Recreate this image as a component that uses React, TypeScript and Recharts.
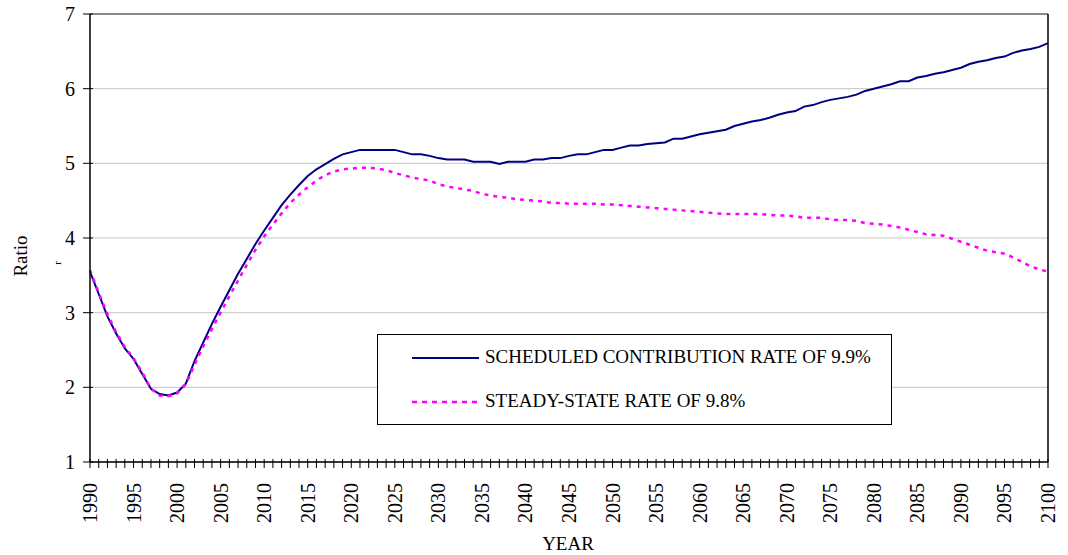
import { LineChart, Line, XAxis, YAxis, CartesianGrid, Legend, ReferenceLine } from "recharts";

const FONT = '"Liberation Serif", "Times New Roman", serif';

// ratio under the scheduled contribution rate of 9.9%, one value per year 1990..2100
const scheduled = [
  3.55, 3.25, 2.95, 2.72, 2.52, 2.38, 2.18, 1.98, 1.91, 1.89,
  1.93, 2.05, 2.35, 2.6, 2.85, 3.08, 3.3, 3.52, 3.72, 3.92,
  4.1, 4.27, 4.44, 4.58, 4.71, 4.83, 4.92, 4.99, 5.06, 5.12,
  5.15, 5.18, 5.18, 5.18, 5.18, 5.18, 5.15, 5.12, 5.12, 5.1,
  5.07, 5.05, 5.05, 5.05, 5.02, 5.02, 5.02, 4.99, 5.02, 5.02,
  5.02, 5.05, 5.05, 5.07, 5.07, 5.1, 5.12, 5.12, 5.15, 5.18,
  5.18, 5.21, 5.24, 5.24, 5.26, 5.27, 5.28, 5.33, 5.33, 5.36,
  5.39, 5.41, 5.43, 5.45, 5.5, 5.53, 5.56, 5.58, 5.61, 5.65,
  5.68, 5.7, 5.76, 5.78, 5.82, 5.85, 5.87, 5.89, 5.92, 5.97,
  6.0, 6.03, 6.06, 6.1, 6.1, 6.15, 6.17, 6.2, 6.22, 6.25,
  6.28, 6.33, 6.36, 6.38, 6.41, 6.43, 6.48, 6.51, 6.53, 6.56,
  6.61,
];

// ratio under the steady-state rate of 9.8%
const steadyState = [
  3.57, 3.27, 2.98, 2.74, 2.54, 2.39, 2.2, 1.98, 1.89, 1.88,
  1.92, 2.04, 2.3, 2.55, 2.78, 3.0, 3.22, 3.43, 3.64, 3.84,
  4.02, 4.18, 4.33, 4.47, 4.58, 4.68, 4.77, 4.84, 4.89, 4.92,
  4.93, 4.94, 4.94, 4.93, 4.91, 4.87, 4.84, 4.81, 4.79, 4.77,
  4.72, 4.69, 4.67, 4.65, 4.63, 4.59, 4.57, 4.55, 4.54, 4.52,
  4.51, 4.5, 4.49, 4.47, 4.47, 4.46, 4.46, 4.46, 4.46, 4.45,
  4.45, 4.44, 4.43, 4.42, 4.41, 4.4, 4.39, 4.38, 4.37, 4.36,
  4.35, 4.34, 4.33, 4.32, 4.32, 4.32, 4.32, 4.32, 4.31, 4.3,
  4.3, 4.29, 4.27, 4.27, 4.27, 4.25, 4.24, 4.24, 4.23, 4.2,
  4.19, 4.18, 4.16, 4.14, 4.11, 4.08, 4.05, 4.04, 4.03, 3.99,
  3.95, 3.91, 3.87, 3.83, 3.81, 3.79, 3.74, 3.68, 3.62, 3.58,
  3.55,
];

const FIRST_YEAR = 1990;
const years = scheduled.map((_, i) => FIRST_YEAR + i);
const ratioTicks = [1, 2, 3, 4, 5, 6, 7];

const seriesNames = ["SCHEDULED CONTRIBUTION RATE OF 9.9%", "STEADY-STATE RATE OF 9.8%"];

const data = years.map((year, i) => ({
  year,
  scheduled: scheduled[i],
  steady: steadyState[i],
}));

function YearTick(props: any) {
  const { x, y, payload } = props;
  const yr = payload.value;
  const ty = y + 19;
  return (
    <g>
      <line x1={x} x2={x} y1={y - 5} y2={y + 4} stroke="#000" />
      {yr % 5 === 0 && (
        <text
          x={x}
          y={ty}
          dy="0.35em"
          transform={`rotate(-90 ${x} ${ty})`}
          textAnchor="end"
          fontFamily={FONT}
          fontSize={20}
          fill="#000"
        >
          {yr}
        </text>
      )}
    </g>
  );
}

function LeftTick(props: any) {
  const { x, y, payload } = props;
  return (
    <g>
      <line x1={x - 5} x2={x + 5} y1={y} y2={y} stroke="#000" />
      <text x={x - 13} y={y} dy="0.35em" textAnchor="end" fontFamily={FONT} fontSize={20} fill="#000">
        {payload.value}
      </text>
    </g>
  );
}

function RightTick(props: any) {
  const { x, y, payload } = props;
  return (
    <g>
      <line x1={x - 5} x2={x + 5} y1={y} y2={y} stroke="#000" />
      <text x={x + 15} y={y} dy="0.35em" textAnchor="start" fontFamily={FONT} fontSize={20} fill="#000">
        {payload.value}
      </text>
    </g>
  );
}

function RatioLabel() {
  return (
    <g>
      <text x={20} y={256} dy="0.35em" transform="rotate(-90 20 256)" textAnchor="middle" fontFamily={FONT} fontSize={19} fill="#000">
        Ratio
      </text>
      <text x={57} y={263} dy="0.35em" transform="rotate(-90 57 263)" textAnchor="middle" fontFamily={FONT} fontSize={11} fill="#000">
        r
      </text>
    </g>
  );
}

function YearLabel() {
  return (
    <text x={568} y={543} dy="0.35em" textAnchor="middle" fontFamily={FONT} fontSize={19} fill="#000">
      YEAR
    </text>
  );
}

function LegendBox() {
  return (
    <div
      style={{
        width: 515,
        height: 91,
        boxSizing: "border-box",
        border: "1px solid #000",
        background: "#fff",
        position: "relative",
        fontFamily: FONT,
        fontSize: 19,
        color: "#000",
      }}
    >
      <svg width={515} height={91} style={{ position: "absolute", left: -1, top: -1 }}>
        <line x1={35} x2={102} y1={24} y2={24} stroke="#000080" strokeWidth={2} />
        <line x1={35} x2={102} y1={68} y2={68} stroke="#FF00FF" strokeWidth={2.5} strokeDasharray="5 5" />
      </svg>
      <div style={{ position: "absolute", left: 107, top: 11, whiteSpace: "nowrap" }}>{seriesNames[0]}</div>
      <div style={{ position: "absolute", left: 107, top: 55, whiteSpace: "nowrap" }}>{seriesNames[1]}</div>
    </div>
  );
}

export default function App() {
  return (
    <div style={{ position: "absolute", left: 0, top: 0, background: "#fff" }}>
      <LineChart width={1068} height={555} data={data} margin={{ top: 14, right: 0, bottom: 0, left: 0 }}>
        <CartesianGrid yAxisId="left" vertical={false} stroke="#c4c4c4" />
        <ReferenceLine yAxisId="left" y={7} stroke="#8a8a8a" strokeWidth={2} />
        <XAxis
          dataKey="year"
          type="number"
          domain={[1990, 2100]}
          ticks={years}
          interval={0}
          height={93}
          tickSize={0}
          tickLine={false}
          tick={<YearTick />}
          axisLine={{ stroke: "#000", strokeWidth: 1.5 }}
          label={<YearLabel />}
        />
        <YAxis
          yAxisId="left"
          domain={[1, 7]}
          ticks={ratioTicks}
          width={90}
          tickSize={0}
          tickLine={false}
          tick={<LeftTick />}
          axisLine={{ stroke: "#000", strokeWidth: 1.5 }}
          label={<RatioLabel />}
        />
        <YAxis
          yAxisId="right"
          orientation="right"
          domain={[1, 7]}
          ticks={ratioTicks}
          width={20}
          tickSize={0}
          tickLine={false}
          tick={<RightTick />}
          axisLine={{ stroke: "#000", strokeWidth: 1.5 }}
        />
        <Legend
          layout="vertical"
          align="center"
          verticalAlign="middle"
          content={<LegendBox />}
          wrapperStyle={{ left: 377, top: 334, width: 515, height: 91 }}
        />
        <Line
          yAxisId="left"
          type="linear"
          dataKey="scheduled"
          name={seriesNames[0]}
          stroke="#000080"
          strokeWidth={2}
          dot={false}
          isAnimationActive={false}
        />
        <Line
          yAxisId="left"
          type="linear"
          dataKey="steady"
          name={seriesNames[1]}
          stroke="#FF00FF"
          strokeWidth={2.5}
          strokeDasharray="4 5"
          dot={false}
          isAnimationActive={false}
        />
      </LineChart>
    </div>
  );
}
